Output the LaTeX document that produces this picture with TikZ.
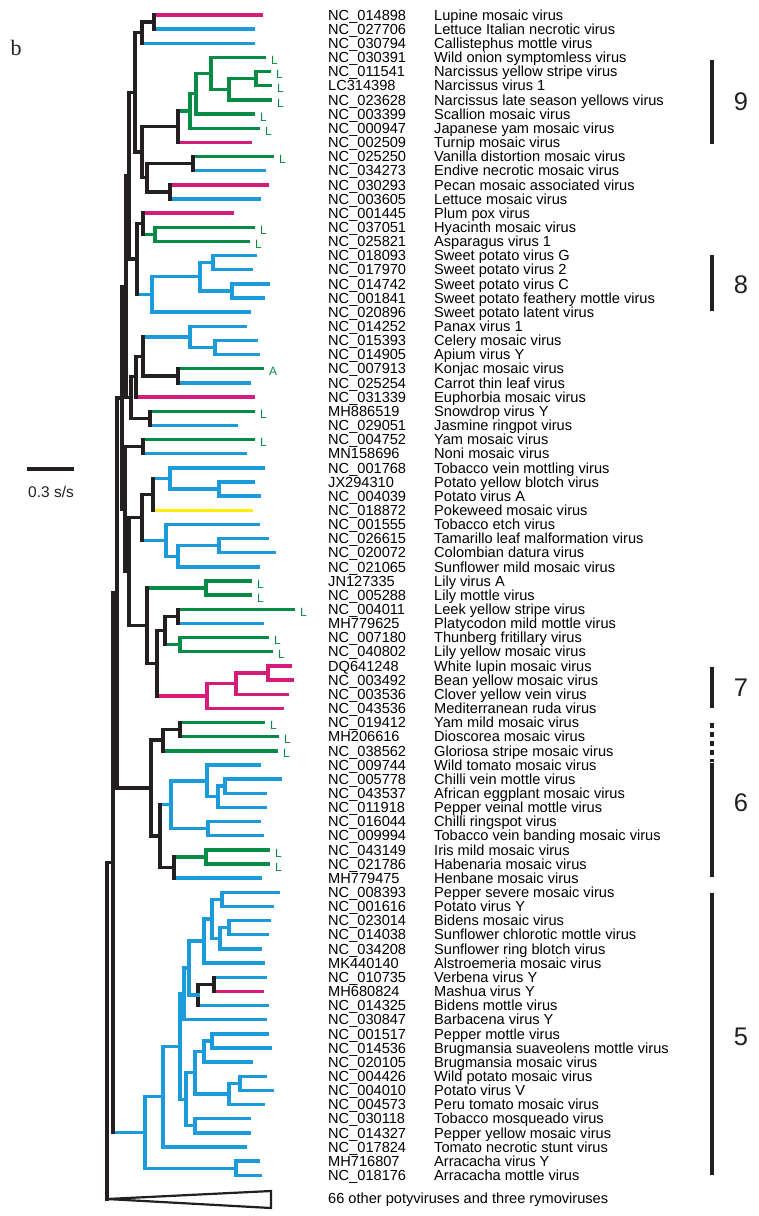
\documentclass[tikz,border=0pt]{standalone}
\usepackage{fontspec}
\setmainfont{Liberation Sans}
\newfontfamily\tnr{Liberation Serif}
\usetikzlibrary{calc}
\definecolor{mg}{RGB}{214,28,122}
\definecolor{bl}{RGB}{28,155,218}
\definecolor{gr}{RGB}{6,140,68}
\definecolor{yl}{RGB}{255,238,0}
\definecolor{k}{RGB}{35,31,32}
\tikzset{
  br/.style={line width=3.4pt, line cap=rect},
  acc/.style={anchor=west, inner sep=0pt, text height=10.4pt, text depth=0pt, font=\fontsize{14.6}{15}\selectfont},
  lbl/.style={anchor=west, inner sep=0pt, text height=8.3pt, text depth=0pt, text=gr, font=\fontsize{12}{12}\selectfont},
  bar/.style={line width=3.6pt, k},
  num/.style={inner sep=0pt, font=\fontsize{25.5}{26}\selectfont, text=k}
}
\def\setcol#1#2{\expandafter\gdef\csname c@#1\endcsname{#2}}
\newcommand\clade[5]{%
  \coordinate (#1-m) at ($(#3)!.5!(#4)$);
  \coordinate (#1) at (#2,0 |- #1-m);
  \edef\ca{\csname c@#3\endcsname}\edef\cb{\csname c@#4\endcsname}%
  \draw[br,color=\ca] (#1 |- #3) -- (#3);
  \draw[br,color=\cb] (#1 |- #4) -- (#4);
  \draw[br,color=#5] (#1 |- #3) -- (#1 |- #4);
  \setcol{#1}{#5}}

\begin{document}
\begin{tikzpicture}[x=1pt,y=-1pt]
\useasboundingbox (0,0) rectangle (759,1216);

\foreach \i/\tx/\tc/\cod/\vnm in {
  1/261/mg/NC\_014898/Lupine mosaic virus,
  2/253/bl/NC\_027706/Lettuce Italian necrotic virus,
  3/253/bl/NC\_030794/Callistephus mottle virus,
  4/264/gr/NC\_030391/Wild onion symptomless virus,
  5/269/gr/NC\_011541/Narcissus yellow stripe virus,
  6/270/gr/LC314398/Narcissus virus 1,
  7/270/gr/NC\_023628/Narcissus late season yellows virus,
  8/253/gr/NC\_003399/Scallion mosaic virus,
  9/258/gr/NC\_000947/Japanese yam mosaic virus,
  10/250/mg/NC\_002509/Turnip mosaic virus,
  11/272/gr/NC\_025250/Vanilla distortion mosaic virus,
  12/264/bl/NC\_034273/Endive necrotic mosaic virus,
  13/267/mg/NC\_030293/Pecan mosaic associated virus,
  14/259/bl/NC\_003605/Lettuce mosaic virus,
  15/232/mg/NC\_001445/Plum pox virus,
  16/253/gr/NC\_037051/Hyacinth mosaic virus,
  17/248/gr/NC\_025821/Asparagus virus 1,
  18/255/bl/NC\_018093/Sweet potato virus G,
  19/251/bl/NC\_017970/Sweet potato virus 2,
  20/268/bl/NC\_014742/Sweet potato virus C,
  21/263/bl/NC\_001841/Sweet potato feathery mottle virus,
  22/249/bl/NC\_020896/Sweet potato latent virus,
  23/245/bl/NC\_014252/Panax virus 1,
  24/256/bl/NC\_015393/Celery mosaic virus,
  25/258/bl/NC\_014905/Apium virus Y,
  26/262/gr/NC\_007913/Konjac mosaic virus,
  27/249/bl/NC\_025254/Carrot thin leaf virus,
  28/253/mg/NC\_031339/Euphorbia mosaic virus,
  29/253/gr/MH886519/Snowdrop virus Y,
  30/236/bl/NC\_029051/Jasmine ringpot virus,
  31/253/gr/NC\_004752/Yam mosaic virus,
  32/245/bl/MN158696/Noni mosaic virus,
  33/263/bl/NC\_001768/Tobacco vein mottling virus,
  34/253/bl/JX294310/Potato yellow blotch virus,
  35/259/bl/NC\_004039/Potato virus A,
  36/251/yl/NC\_018872/Pokeweed mosaic virus,
  37/258/bl/NC\_001555/Tobacco etch virus,
  38/267/bl/NC\_026615/Tamarillo leaf malformation virus,
  39/274/bl/NC\_020072/Colombian datura virus,
  40/258/bl/NC\_021065/Sunflower mild mosaic virus,
  41/250/gr/JN127335/Lily virus A,
  42/250/gr/NC\_005288/Lily mottle virus,
  43/293/gr/NC\_004011/Leek yellow stripe virus,
  44/262/bl/MH779625/Platycodon mild mottle virus,
  45/267/gr/NC\_007180/Thunberg fritillary virus,
  46/271/gr/NC\_040802/Lily yellow mosaic virus,
  47/290/mg/DQ641248/White lupin mosaic virus,
  48/292/mg/NC\_003492/Bean yellow mosaic virus,
  49/287/mg/NC\_003536/Clover yellow vein virus,
  50/282/mg/NC\_043536/Mediterranean ruda virus,
  51/263/gr/NC\_019412/Yam mild mosaic virus,
  52/277/gr/MH206616/Dioscorea mosaic virus,
  53/276/gr/NC\_038562/Gloriosa stripe mosaic virus,
  54/259/bl/NC\_009744/Wild tomato mosaic virus,
  55/280/bl/NC\_005778/Chilli vein mottle virus,
  56/265/bl/NC\_043537/African eggplant mosaic virus,
  57/265/bl/NC\_011918/Pepper veinal mottle virus,
  58/259/bl/NC\_016044/Chilli ringspot virus,
  59/262/bl/NC\_009994/Tobacco vein banding mosaic virus,
  60/268/gr/NC\_043149/Iris mild mosaic virus,
  61/268/gr/NC\_021786/Habenaria mosaic virus,
  62/260/bl/MH779475/Henbane mosaic virus,
  63/278/bl/NC\_008393/Pepper severe mosaic virus,
  64/272/bl/NC\_001616/Potato virus Y,
  65/269/bl/NC\_023014/Bidens mosaic virus,
  66/267/bl/NC\_014038/Sunflower chlorotic mottle virus,
  67/260/bl/NC\_034208/Sunflower ring blotch virus,
  68/263/bl/MK440140/Alstroemeria mosaic virus,
  69/265/bl/NC\_010735/Verbena virus Y,
  70/262/mg/MH680824/Mashua virus Y,
  71/267/bl/NC\_014325/Bidens mottle virus,
  72/265/bl/NC\_030847/Barbacena virus Y,
  73/267/bl/NC\_001517/Pepper mottle virus,
  74/270/bl/NC\_014536/Brugmansia suaveolens mottle virus,
  75/251/bl/NC\_020105/Brugmansia mosaic virus,
  76/265/bl/NC\_004426/Wild potato mosaic virus,
  77/272/bl/NC\_004010/Potato virus V,
  78/263/bl/NC\_004573/Peru tomato mosaic virus,
  79/249/bl/NC\_030118/Tobacco mosqueado virus,
  80/249/bl/NC\_014327/Pepper yellow mosaic virus,
  81/245/bl/NC\_017824/Tomato necrotic stunt virus,
  82/258/bl/MH716807/Arracacha virus Y,
  83/260/bl/NC\_018176/Arracacha mottle virus}{
  \coordinate (t\i) at (\tx,{15+(\i-1)*14.15});
  \expandafter\xdef\csname c@t\i\endcsname{\tc}
  \node[acc] (a\i) at (328,{15+(\i-1)*14.15}) {\cod};
  \node[acc] (v\i) at (434,{15+(\i-1)*14.15}) {\vnm};
}
\node[acc] (oth) at (328,1198) {66 other potyviruses and three rymoviruses};

\clade{n1}{154}{t1}{t2}{k}
\clade{n2}{142}{n1}{t3}{k}
\clade{n3}{256}{t5}{t6}{gr}
\clade{n4}{229}{n3}{t7}{gr}
\clade{n5}{211}{t4}{n4}{gr}
\clade{n6}{196}{n5}{t8}{gr}
\clade{n7}{190}{n6}{t9}{gr}
\clade{n8}{178}{n7}{t10}{k}
\clade{n9}{193}{t11}{t12}{k}
\clade{n10}{170}{t13}{t14}{k}
\clade{n11}{147}{n9}{n10}{k}
\clade{n12}{142}{n8}{n11}{k}
\clade{n13}{135}{n2}{n12}{k}
\clade{n14}{155}{t16}{t17}{gr}
\clade{n15}{143}{t15}{n14}{k}
\clade{n16}{213}{t18}{t19}{bl}
\clade{n17}{232}{t20}{t21}{bl}
\clade{n18}{200}{n16}{n17}{bl}
\clade{n19}{152}{n18}{t22}{bl}
\clade{n20}{137}{n15}{n19}{k}
\clade{n21}{215}{t24}{t25}{bl}
\clade{n22}{190}{t23}{n21}{bl}
\clade{n23}{178}{t26}{t27}{k}
\clade{n24}{143}{n22}{n23}{k}
\clade{n25}{136}{n24}{t28}{k}
\clade{n26}{150}{t29}{t30}{k}
\clade{n27}{143}{t31}{t32}{k}
\clade{n28}{219}{t34}{t35}{bl}
\clade{n29}{170}{t33}{n28}{bl}
\clade{n30}{153}{n29}{t36}{k}
\clade{n31}{219}{t38}{t39}{bl}
\clade{n32}{178}{n31}{t40}{bl}
\clade{n33}{166}{t37}{n32}{bl}
\clade{n34}{142}{n30}{n33}{k}
\clade{n35}{206}{t41}{t42}{gr}
\clade{n36}{178}{t43}{t44}{k}
\clade{n37}{180}{t45}{t46}{gr}
\clade{n38}{165}{n36}{n37}{k}
\clade{n39}{268}{t47}{t48}{mg}
\clade{n40}{236}{n39}{t49}{mg}
\clade{n41}{207}{n40}{t50}{mg}
\clade{n42}{157}{n38}{n41}{k}
\clade{n43}{147}{n35}{n42}{k}
\clade{n44}{180}{t51}{t52}{k}
\clade{n45}{163}{n44}{t53}{k}
\clade{n46}{225}{t55}{t56}{bl}
\clade{n47}{218}{n46}{t57}{bl}
\clade{n48}{207}{t54}{n47}{bl}
\clade{n49}{208}{t58}{t59}{bl}
\clade{n50}{171}{n48}{n49}{bl}
\clade{n51}{206}{t60}{t61}{gr}
\clade{n52}{174}{n51}{t62}{k}
\clade{n53}{160}{n50}{n52}{k}
\clade{n54}{151}{n45}{n53}{k}
\clade{n55}{222}{t63}{t64}{bl}
\clade{n56}{229}{t65}{t66}{bl}
\clade{n57}{220}{n56}{t67}{bl}
\clade{n58}{212}{n55}{n57}{bl}
\clade{n59}{204}{n58}{t68}{bl}
\clade{n60}{214}{t69}{t70}{k}
\clade{n61}{198}{n60}{t71}{k}
\setcol{n61}{bl}
\clade{n62}{189}{n59}{n61}{bl}
\clade{n63}{184}{n62}{t72}{bl}
\clade{n64}{212}{t73}{t74}{bl}
\clade{n65}{204}{n64}{t75}{bl}
\clade{n66}{240}{t76}{t77}{bl}
\clade{n67}{229}{n66}{t78}{bl}
\clade{n68}{195}{n65}{n67}{bl}
\clade{n69}{195}{t79}{t80}{bl}
\clade{n70}{186}{n68}{n69}{bl}
\clade{n71}{180}{n63}{n70}{bl}
\clade{n72}{163}{n71}{t81}{bl}
\clade{n73}{236}{t82}{t83}{bl}
\clade{n74}{145}{n72}{n73}{bl}
\clade{b1}{129}{n13}{n20}{k}
\clade{b2}{131}{n25}{n26}{k}
\clade{b3}{126}{b1}{b2}{k}
\clade{b4}{129}{n34}{n43}{k}
\clade{b5}{125}{n27}{b4}{k}
\clade{b6}{122}{b3}{b5}{k}
\clade{b7}{117}{b6}{n54}{k}
\clade{b8}{113}{b7}{n74}{k}
\coordinate (tri) at (107,1199);
\setcol{tri}{k}
\clade{root}{107}{b8}{tri}{k}
\coordinate (tri-a) at (271,1191);
\coordinate (tri-b) at (271,1208);
\draw[k,line width=2.2pt] (tri) -- (tri-a) -- (tri-b) -- cycle;

\foreach \i/\m in {4/L,5/L,6/L,7/L,8/L,9/L,11/L,16/L,17/L,26/A,29/L,31/L,41/L,42/L,43/L,45/L,46/L,51/L,52/L,53/L,60/L,61/L}
  \node[lbl] (m\i) at ([xshift=7pt,yshift=-3pt]t\i) {\m};

\coordinate (k9a) at (712,60);
\coordinate (k9b) at (712,144);
\coordinate (k8a) at (712,255);
\coordinate (k8b) at (712,311);
\coordinate (k7a) at (712,667);
\coordinate (k7b) at (712,708);
\coordinate (kda) at (712,723);
\coordinate (kdb) at (712,762);
\coordinate (k6a) at (712,763);
\coordinate (k6b) at (712,877);
\coordinate (k5a) at (712,893);
\coordinate (k5b) at (712,1175);
\draw[bar] (k9a) -- (k9b);
\draw[bar] (k8a) -- (k8b);
\draw[bar] (k7a) -- (k7b);
\draw[bar,dash pattern=on 5pt off 4pt] (kda) -- (kdb);
\draw[bar] (k6a) -- (k6b);
\draw[bar] (k5a) -- (k5b);
\node[num] (l9) at (741,102) {9};
\node[num] (l8) at (741,285) {8};
\node[num] (l7) at (741,688) {7};
\node[num] (l6) at (741,803) {6};
\node[num] (l5) at (741,1037) {5};

\coordinate (sa) at (27,469);
\coordinate (sb) at (74,469);
\draw[k,line width=3.4pt] (sa) -- (sb);
\node[font=\fontsize{15.5}{16}\selectfont,text=k] (sl) at (51,492) {0.3 s/s};
\node[font=\tnr\fontsize{22}{22}\selectfont,text=k] (fig) at (16,48) {b};
\end{tikzpicture}
\end{document}
